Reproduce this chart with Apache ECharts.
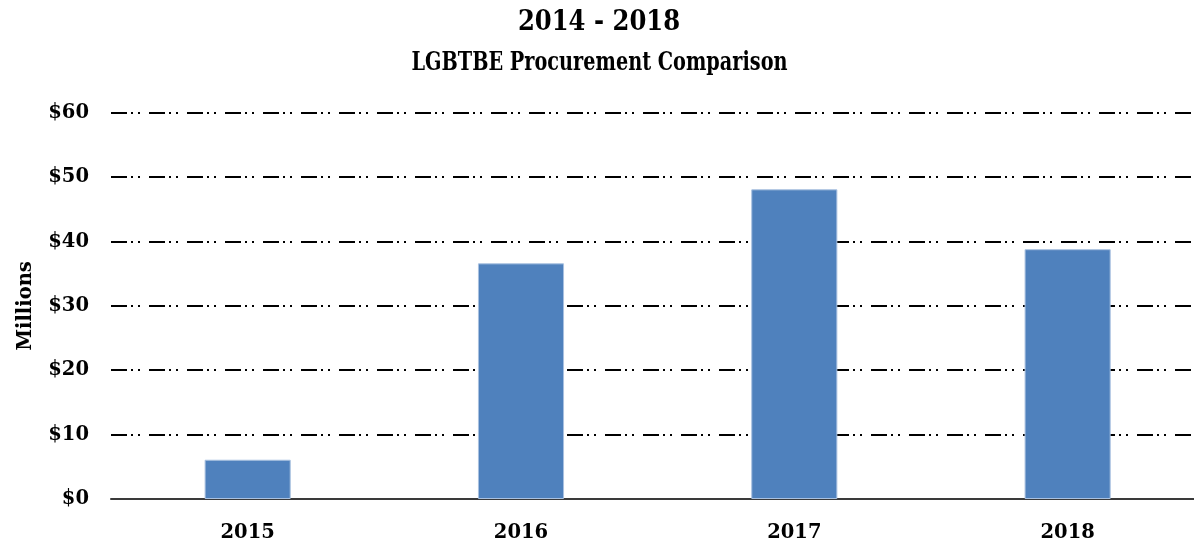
<!DOCTYPE html>
<html>
<head>
<meta charset="utf-8">
<script src="https://cdn.jsdelivr.net/npm/echarts@6/dist/echarts.min.js"></script>
<style>
  html, body { margin: 0; padding: 0; background: #fff; }
  #chart { width: 1194px; height: 541px; }
</style>
</head>
<body>
<div id="chart"></div>
<script>
// data
var years = ["2015", "2016", "2017", "2018"];
var spend = [6.1, 36.6, 48.1, 38.8]; // millions of dollars
var yTicks = [0, 10, 20, 30, 40, 50, 60];
var titleLines = ["2014 - 2018", "LGBTBE Procurement Comparison"];

(function () {
  var myechart = echarts.init(document.getElementById("chart"));
  var font = "DejaVu Serif";
  var option = {
    animation: false,
    // two-line title drawn as text graphics so line 2 can be narrowed like the original
    graphic: [
      {
        type: "text",
        x: 599,
        y: 23,
        style: {
          text: titleLines[0],
          font: "bold 27px 'DejaVu Serif Condensed', 'DejaVu Serif', serif",
          fill: "#000",
          align: "center",
          verticalAlign: "middle",
        },
      },
      {
        type: "text",
        x: 599.5,
        y: 63,
        scaleX: 0.84,
        style: {
          text: titleLines[1],
          font: "bold 25.5px 'DejaVu Serif Condensed', 'DejaVu Serif', serif",
          fill: "#000",
          align: "center",
          verticalAlign: "middle",
        },
      },
    ],
    grid: {
      left: 111,
      width: 1093.3,
      top: 112.7,
      bottom: 42,
      containLabel: false,
      outerBoundsMode: "none",
    },
    xAxis: {
      type: "category",
      data: years,
      axisTick: { show: false },
      axisLine: {
        lineStyle: { color: "#3a3a3a", width: 2 },
      },
      axisLabel: {
        color: "#000",
        fontFamily: font,
        fontWeight: "bold",
        fontSize: 19.5,
        margin: 24,
      },
    },
    yAxis: {
      type: "value",
      min: yTicks[0],
      max: yTicks[yTicks.length - 1],
      interval: 10,
      name: "Millions",
      nameLocation: "middle",
      nameGap: 75,
      nameRotate: 90,
      nameTextStyle: {
        color: "#000",
        fontFamily: font,
        fontWeight: "bold",
        fontSize: 19.5,
      },
      axisLine: { show: false },
      axisTick: { show: false },
      axisLabel: {
        color: "#000",
        fontFamily: font,
        fontWeight: "bold",
        fontSize: 19.5,
        margin: 22,
        formatter: function (v) {
          return "$" + v;
        },
      },
      splitLine: {
        lineStyle: {
          color: "#000",
          width: 2,
          type: [16, 4, 2, 5, 2, 9],
        },
      },
    },
    series: [
      {
        type: "bar",
        data: spend,
        barWidth: "31.5%",
        itemStyle: {
          color: "#4F81BD",
          borderColor: "#a9c1e0",
          borderWidth: 1,
        },
      },
    ],
  };
  myechart.setOption(option);
})();
</script>
</body>
</html>
